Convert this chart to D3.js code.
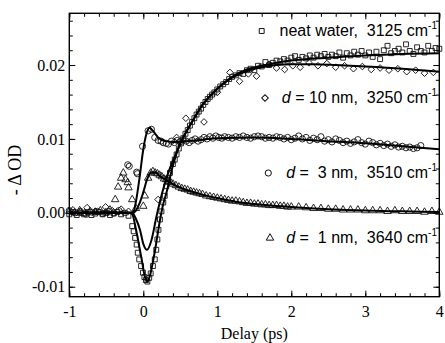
<!DOCTYPE html>
<html><head><meta charset="utf-8">
<script src="https://cdn.jsdelivr.net/npm/d3@7"></script>
<style>body{margin:0;background:#fff}</style>
</head><body>
<svg id="c" width="445" height="343"></svg>
<script>
// ---- tick values ----
const xTicks = [-1, 0, 1, 2, 3, 4];
const yTicks = [-0.01, 0, 0.01, 0.02];
const xMinor = d3.range(-1, 4.001, 0.2);
const yMinor = d3.range(-0.010, 0.0265, 0.002);

// ---- data points [delay ps, -dOD] ----
const waterData = [
 [-1.0,-0.0002],[-0.95,0.0001],[-0.9,-0.0003],[-0.85,0.0],[-0.8,-0.0002],[-0.75,0.0001],[-0.7,-0.0003],
 [-0.65,-0.0001],[-0.6,0.0001],[-0.55,-0.0002],[-0.5,0.0],[-0.45,-0.0003],[-0.4,-0.0001],[-0.35,0.0001],
 [-0.3,-0.0002],[-0.25,0.0],[-0.2,-0.0004],
 [-0.15,-0.0018],[-0.13,-0.0025],[-0.11,-0.0034],[-0.09,-0.0043],[-0.075,-0.0054],[-0.055,-0.0063],
 [-0.03,-0.0072],[-0.005,-0.0081],[0.015,-0.0087],[0.035,-0.0091],[0.055,-0.0093],[0.08,-0.0088],
 [0.1,-0.0082],[0.13,-0.0072],[0.155,-0.0063],[0.175,-0.005],[0.19,-0.0036],[0.205,-0.0023],
 [0.225,-0.0009],[0.245,0.0002],[0.27,0.0014],[0.29,0.0023],[0.31,0.0036],[0.335,0.0045],
 [0.36,0.0054],[0.4,0.0066],[0.425,0.0072],[0.45,0.0079],[0.48,0.0087],[0.51,0.0094],[0.54,0.0101],
 [0.57,0.0107],[0.6,0.0112],[0.63,0.0118],[0.66,0.0123],[0.69,0.0128],[0.72,0.0133],[0.75,0.0137],
 [0.78,0.0141],[0.81,0.0146],[0.84,0.0150],[0.87,0.0154],[0.9,0.0157],[0.93,0.0160],[0.96,0.0163],
 [1.0,0.0167],[1.04,0.0171],[1.08,0.0174],[1.12,0.0177],[1.16,0.0181],[1.2,0.0184],[1.25,0.0186],
 [1.3,0.0189],[1.35,0.0188],[1.4,0.0193],[1.45,0.0195],[1.5,0.0193],[1.55,0.0199],[1.6,0.0198],
 [1.65,0.0204],[1.7,0.0200],[1.75,0.0203],[1.8,0.0206],[1.85,0.0205],[1.9,0.0208],[1.95,0.0206],
 [2.0,0.0210],[2.05,0.0212],[2.1,0.0207],[2.15,0.0211],[2.2,0.0209],[2.25,0.0213],[2.3,0.0210],
 [2.35,0.0214],[2.4,0.0212],[2.45,0.0215],[2.5,0.0211],[2.55,0.0214],[2.6,0.0212],[2.65,0.0217],
 [2.7,0.0210],[2.75,0.0216],[2.8,0.0213],[2.85,0.0218],[2.9,0.0214],[2.95,0.0219],[3.0,0.0213],
 [3.05,0.0217],[3.1,0.0211],[3.15,0.0218],[3.2,0.0208],[3.25,0.0220],[3.3,0.0226],[3.35,0.0216],
 [3.4,0.0219],[3.45,0.0222],[3.5,0.0217],[3.55,0.0228],[3.6,0.0219],[3.65,0.0215],[3.7,0.0224],
 [3.75,0.0219],[3.8,0.0217],[3.85,0.0226],[3.9,0.0219],[3.95,0.0223],[4.0,0.0222]
];
const d10Data = [
 [-0.95,0.0004],[-0.85,0.0001],[-0.76,0.0007],[-0.65,0.0002],[-0.51,0.0008],[-0.42,0.0003],
 [-0.3,0.0005],[-0.2,0.0002],[0.2,0.0018],[0.45,0.0102],[0.575,0.0128],[0.82,0.0123],[1.0,0.0163],
 [1.17,0.0190],[1.3,0.0178],[1.42,0.0188],[1.53,0.0185],[1.7,0.0201],[1.8,0.0196],[1.91,0.0194],
 [2.02,0.0199],[2.12,0.0197],[2.24,0.0203],[2.36,0.0199],[2.48,0.0202],[2.6,0.0197],[2.72,0.0199],
 [2.84,0.0195],[2.96,0.0198],[3.08,0.0194],[3.2,0.0196],[3.32,0.0193],[3.44,0.0195],[3.56,0.0191],
 [3.68,0.0193],[3.8,0.0189],[3.92,0.0190]
];
const d3Data = [
 [-1.0,0.0003],[-0.92,0.0],[-0.85,0.0002],[-0.77,-0.0002],[-0.7,0.0001],[-0.62,0.0002],[-0.55,-0.0001],
 [-0.47,0.0002],[-0.4,0.0],[-0.33,0.0003],[-0.21,0.0065],[-0.19,0.0063],[-0.09,0.0055],[-0.08,0.0053],
 [-0.01,0.0090],[0.065,0.0111],[0.11,0.0113],[0.155,0.0102],[0.2,0.0098],[0.24,0.0097],[0.27,0.0095],
 [0.31,0.0094],[0.34,0.0093],[0.38,0.0097],[0.42,0.0095],[0.46,0.0098],[0.5,0.0096],[0.54,0.0099],
 [0.58,0.0097],[0.62,0.0095],[0.66,0.0098],[0.7,0.0100],[0.74,0.0097],[0.78,0.0099],[0.82,0.0102],
 [0.86,0.0100],[0.9,0.0103],[0.94,0.0101],[0.98,0.0104],[1.02,0.0102],[1.06,0.0101],[1.1,0.0103],
 [1.15,0.0102],[1.2,0.0101],[1.25,0.0103],[1.3,0.0102],[1.35,0.0104],[1.4,0.0102],[1.45,0.0101],
 [1.5,0.0103],[1.55,0.0104],[1.6,0.0103],[1.65,0.0101],[1.7,0.0102],[1.75,0.0101],[1.8,0.0103],
 [1.85,0.0102],[1.9,0.0100],[1.95,0.0102],[2.0,0.0099],[2.05,0.0101],[2.1,0.0104],[2.15,0.0100],
 [2.2,0.0102],[2.25,0.0098],[2.3,0.0101],[2.35,0.0099],[2.4,0.0103],[2.45,0.0097],[2.5,0.0099],
 [2.55,0.0096],[2.6,0.0100],[2.65,0.0098],[2.7,0.0095],[2.75,0.0097],[2.8,0.0094],[2.85,0.0096],
 [2.9,0.0099],[2.95,0.0095],[3.0,0.0093],[3.05,0.0097],[3.1,0.0095],[3.15,0.0092],[3.2,0.0094],
 [3.25,0.0091],[3.3,0.0093],[3.35,0.0090],[3.4,0.0092],[3.45,0.0089],[3.5,0.0090],[3.55,0.0088],
 [3.6,0.0089],[3.65,0.0087],[3.7,0.0088],[3.75,0.0091]
];
const d1Data = [
 [-1.0,0.0002],[-0.93,0.0],[-0.86,0.0003],[-0.79,-0.0001],[-0.72,0.0002],[-0.65,0.0001],[-0.58,0.0003],
 [-0.51,0.0],[-0.45,0.0004],[-0.38,0.0018],[-0.34,0.0035],[-0.3,0.0047],[-0.27,0.0054],[-0.24,0.0045],
 [-0.21,0.0041],[-0.2,0.0034],[-0.15,0.0018],[-0.1,0.0006],[0.0,0.0009],[0.02,0.0023],[0.065,0.0047],
 [0.1,0.0054],[0.13,0.0056],[0.16,0.0054],[0.19,0.0053],[0.22,0.0051],[0.25,0.0049],[0.28,0.0046],
 [0.31,0.0045],[0.34,0.0042],[0.37,0.0041],[0.4,0.0039],[0.44,0.0037],[0.48,0.0035],[0.52,0.0033],
 [0.56,0.0032],[0.6,0.0031],[0.64,0.0029],[0.68,0.0028],[0.72,0.0027],[0.76,0.0026],[0.8,0.0025],
 [0.85,0.0023],[0.9,0.0022],[0.95,0.0021],[1.0,0.0020],[1.05,0.0019],[1.1,0.0018],[1.15,0.0017],
 [1.2,0.0016],[1.25,0.0016],[1.3,0.0015],[1.35,0.0014],[1.4,0.0013],[1.45,0.0013],[1.5,0.0012],
 [1.55,0.0012],[1.6,0.0011],[1.65,0.0011],[1.7,0.0010],[1.75,0.0010],[1.8,0.0010],[1.85,0.0009],
 [1.9,0.0009],[1.95,0.0008],[2.0,0.0008],[2.1,0.0008],[2.2,0.0007],[2.3,0.0006],[2.4,0.0006],
 [2.5,0.0005],[2.6,0.0005],[2.7,0.0004],[2.8,0.0004],[2.9,0.0004],[3.0,0.0003],[3.1,0.0003],
 [3.2,0.0003],[3.3,0.0002],[3.4,0.0003],[3.5,0.0002],[3.6,0.0002],[3.7,0.0002],[3.8,0.0001],
 [3.9,0.0002],[4.0,0.0001]
];

// ---- fitted curves ----
const waterFit = [[-1,0],[-0.2,0],[-0.15,-0.0002],[-0.1,-0.0022],[-0.05,-0.0048],[-0.02,-0.0064],
 [0.02,-0.0086],[0.055,-0.0093],[0.09,-0.0085],[0.13,-0.0066],[0.16,-0.005],[0.2,-0.0025],
 [0.225,-0.001],[0.26,0.0008],[0.32,0.003],[0.4,0.0064],[0.5,0.0094],[0.6,0.0113],[0.7,0.013],
 [0.8,0.0146],[0.9,0.0158],[1.0,0.0168],[1.2,0.0184],[1.4,0.0194],[1.6,0.0199],[1.8,0.0203],
 [2.0,0.0206],[2.5,0.0210],[3.0,0.0213],[3.5,0.0215],[4.0,0.0216]];
const d10Fit = [[-1,0],[-0.15,0],[-0.1,-0.0008],[-0.045,-0.0023],[0,-0.0042],[0.05,-0.005],
 [0.11,-0.0037],[0.178,-0.0005],[0.25,0.0025],[0.33,0.0052],[0.42,0.0075],[0.5,0.0094],[0.6,0.0113],
 [0.7,0.013],[0.8,0.0146],[0.9,0.0158],[1.0,0.0168],[1.2,0.0183],[1.4,0.0192],[1.6,0.0197],
 [1.8,0.0200],[2.0,0.0201],[2.3,0.0201],[2.6,0.0200],[3.0,0.0198],[3.5,0.0195],[4.0,0.0191]];
const d3Fit = [[-1,0],[-0.17,0],[-0.13,0.0002],[-0.1,0.0015],[-0.05,0.0048],[0,0.0086],[0.04,0.0106],
 [0.085,0.0115],[0.13,0.0111],[0.2,0.0102],[0.3,0.0097],[0.4,0.0096],[0.6,0.0097],[0.8,0.0099],
 [1.0,0.0101],[1.5,0.0102],[2.0,0.0100],[2.5,0.0097],[3.0,0.0094],[3.5,0.0090],[4.0,0.0086]];
const d1Fit = [[-1,0],[-0.14,0],[-0.1,0.0003],[-0.05,0.0013],[0,0.0028],[0.05,0.0045],[0.11,0.0055],
 [0.16,0.0055],[0.22,0.0050],[0.3,0.0045],[0.4,0.0039],[0.5,0.0034],[0.75,0.0026],[1.0,0.0020],
 [1.25,0.0015],[1.5,0.0012],[2.0,0.0008],[2.5,0.0005],[3.0,0.0003],[3.5,0.0002],[4.0,0.0001]];

// ---- legend ----
const legendItems = [
 {sym:"square",  italic:"",  text:"neat water,  3125 cm", sup:"-1"},
 {sym:"diamond", italic:"d", text:" = 10 nm,  3250 cm", sup:"-1"},
 {sym:"circle",  italic:"d", text:" =  3 nm,  3510 cm", sup:"-1"},
 {sym:"triangle",italic:"d", text:" =  1 nm,  3640 cm", sup:"-1"}
];

const svg = d3.select("#c");
const L=69.3, R=439.3, T=13.3, B=296.7;
const x = d3.scaleLinear().domain([-1,4]).range([L,R]);
const y = d3.scaleLinear().domain([-0.01135,0.0270]).range([B,T]);

const symTypes = {square:d3.symbolSquare, diamond:d3.symbolSquare, circle:d3.symbolCircle, triangle:d3.symbolTriangle};
const symSizes = {square:24, diamond:22, circle:30, triangle:24};
const symRot = {square:0, diamond:45, circle:0, triangle:0};
function sym(t){ return d3.symbol().type(symTypes[t]).size(symSizes[t])(); }

const series = [
 {data:waterData, sym:"square"},
 {data:d10Data, sym:"diamond"},
 {data:d3Data, sym:"circle"},
 {data:d1Data, sym:"triangle"}
];
const gp = svg.append("g");
series.forEach(s=>{
  gp.selectAll(null).data(s.data).enter().append("path")
    .attr("d", sym(s.sym))
    .attr("transform", d=>`translate(${x(d[0])},${y(d[1])}) rotate(${symRot[s.sym]})`)
    .attr("fill","none").attr("stroke","#111").attr("stroke-width",0.9);
});

const line = d3.line().x(d=>x(d[0])).y(d=>y(d[1])).curve(d3.curveMonotoneX);
[waterFit,d10Fit,d3Fit,d1Fit].forEach(f=>{
  svg.append("path").attr("d",line(f)).attr("fill","none").attr("stroke","#000").attr("stroke-width",2);
});

// axes
const fmt = d => d3.format(".2f")(d).replace("\u2212","-");
const fmtX = d => String(d).replace("\u2212","-");
function styleAxis(g){ g.select(".domain").remove(); g.selectAll("line").attr("stroke","#000").attr("stroke-width",1);
  g.selectAll("text").attr("font-family","'Liberation Serif','Times New Roman',serif").attr("font-size",16).attr("fill","#000"); }

svg.append("g").attr("transform",`translate(0,${B})`)
  .call(d3.axisBottom(x).tickValues(xTicks).tickSize(-6).tickPadding(9).tickFormat(fmtX)).call(styleAxis);
svg.append("g").attr("transform",`translate(0,${B})`)
  .call(d3.axisBottom(x).tickValues(xMinor).tickSize(-3.5).tickFormat("")).call(styleAxis);
svg.append("g").attr("transform",`translate(0,${T})`)
  .call(d3.axisTop(x).tickValues(xTicks).tickSize(-6).tickFormat("")).call(styleAxis);
svg.append("g").attr("transform",`translate(0,${T})`)
  .call(d3.axisTop(x).tickValues(xMinor).tickSize(-3.5).tickFormat("")).call(styleAxis);
svg.append("g").attr("transform",`translate(${L},0)`)
  .call(d3.axisLeft(y).tickValues(yTicks).tickSize(-6).tickPadding(4).tickFormat(fmt)).call(styleAxis);
svg.append("g").attr("transform",`translate(${L},0)`)
  .call(d3.axisLeft(y).tickValues(yMinor).tickSize(-3.5).tickFormat("")).call(styleAxis);
svg.append("g").attr("transform",`translate(${R},0)`)
  .call(d3.axisRight(y).tickValues(yTicks).tickSize(-6).tickFormat("")).call(styleAxis);
svg.append("g").attr("transform",`translate(${R},0)`)
  .call(d3.axisRight(y).tickValues(yMinor).tickSize(-3.5).tickFormat("")).call(styleAxis);

svg.append("rect").attr("x",L).attr("y",T).attr("width",R-L).attr("height",B-T)
  .attr("fill","none").attr("stroke","#000").attr("stroke-width",1.4);

svg.append("text").attr("x",(L+R)/2).attr("y",339).attr("text-anchor","middle")
  .attr("font-family","'Liberation Serif','Times New Roman',serif").attr("font-size",16).text("Delay (ps)");
svg.append("text").attr("transform","translate(21,170) rotate(-90)").attr("text-anchor","middle")
  .attr("font-family","'Liberation Serif','Times New Roman',serif").attr("font-size",18).text("- \u0394 OD");

// legend
const legY = [36,103,178,243];
const legSymX = [261.7,265,268.3,270];
legendItems.forEach((it,i)=>{
  svg.append("path").attr("d",sym(it.sym))
    .attr("transform",`translate(${legSymX[i]},${legY[i]-5}) rotate(${symRot[it.sym]})`)
    .attr("fill","none").attr("stroke","#111").attr("stroke-width",1);
  const t = svg.append("text").attr("x",437).attr("y",legY[i]).attr("text-anchor","end")
    .attr("xml:space","preserve").style("white-space","pre")
    .attr("font-family","'Liberation Sans',Arial,sans-serif").attr("font-size",16);
  if(it.italic) t.append("tspan").attr("font-style","italic").text(it.italic);
  t.append("tspan").text(it.text);
  t.append("tspan").attr("font-size",10).attr("dy",-7).text(it.sup);
});
</script>
</body></html>
